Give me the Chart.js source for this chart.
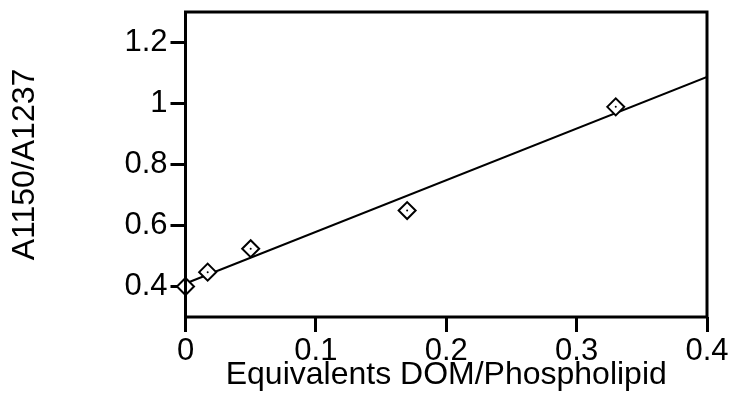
<!DOCTYPE html>
<html lang="en">
<head>
    <meta charset="UTF-8">
    <title>A1150/A1237 vs DOM</title>
    <style>
        body { margin: 0; background: #fff; }
        canvas { display: block; }
    </style>
</head>
<body>
    <canvas id="ratioChart" width="732" height="398"></canvas>
    <script src="https://cdn.jsdelivr.net/npm/chart.js"></script>
    <script>
        // Measured absorbance ratios
        const equivalents = [0, 0.017, 0.05, 0.17, 0.33];
        const ratios = [0.40, 0.447, 0.524, 0.649, 0.989];
        // Linear fit, end points
        const fitX = [0, 0.4];
        const fitY = [0.41, 1.087];
        // Axis ticks
        const xTicks = [0, 0.1, 0.2, 0.3, 0.4];
        const yTicks = [0.4, 0.6, 0.8, 1, 1.2];

        const tickFont = { family: "'Liberation Sans', Arial, sans-serif", size: 31, lineHeight: 1.2 };
        const titleFont = { family: "'Liberation Sans', Arial, sans-serif", size: 32, lineHeight: 1.2 };

        const toPoints = (xs, ys) => xs.map((x, i) => ({ x: x, y: ys[i] }));

        // frame drawn over the markers so the axis shows through
        const frame = {
            id: 'frame',
            afterDatasetsDraw(chart) {
                const { ctx, chartArea: a } = chart;
                ctx.save();
                ctx.strokeStyle = '#000';
                ctx.lineWidth = 3;
                ctx.strokeRect(a.left, a.top, a.right - a.left, a.bottom - a.top);
                ctx.restore();
            }
        };

        new Chart(document.getElementById('ratioChart'), {
            type: 'scatter',
            data: {
                datasets: [
                    {
                        label: 'centre',
                        data: toPoints(equivalents, ratios),
                        pointStyle: 'circle',
                        pointRadius: 1,
                        pointBorderWidth: 0,
                        pointBackgroundColor: '#000',
                        clip: false,
                        order: 0
                    },
                    {
                        label: 'A1150/A1237',
                        data: toPoints(equivalents, ratios),
                        pointStyle: 'rectRot',
                        pointRadius: 8.5,
                        pointBorderWidth: 2,
                        pointBorderColor: '#000',
                        pointBackgroundColor: '#fff',
                        clip: false,
                        order: 1
                    },
                    {
                        label: 'fit',
                        data: toPoints(fitX, fitY),
                        showLine: true,
                        borderColor: '#000',
                        borderWidth: 2,
                        pointRadius: 0,
                        order: 2
                    }
                ]
            },
            options: {
                responsive: false,
                animation: false,
                layout: { padding: { top: 12, right: 25, left: 0, bottom: 0 } },
                plugins: { legend: { display: false }, tooltip: { enabled: false } },
                scales: {
                    x: {
                        type: 'linear',
                        min: 0,
                        max: 0.4,
                        afterBuildTicks: s => { s.ticks = xTicks.map(v => ({ value: v })); },
                        afterFit: s => { s.height = 81; s.paddingLeft = 0; s.paddingRight = 0; },
                        border: { display: false },
                        grid: { drawOnChartArea: false, tickLength: 15, lineWidth: 3, color: '#000' },
                        ticks: { color: '#000', font: tickFont, padding: 1, maxRotation: 0, callback: v => String(v) },
                        title: {
                            display: true,
                            text: 'Equivalents DOM/Phospholipid',
                            color: '#000',
                            font: titleFont,
                            padding: { top: 0, bottom: 4 }
                        }
                    },
                    y: {
                        type: 'linear',
                        min: 0.3,
                        max: 1.3,
                        afterBuildTicks: s => { s.ticks = yTicks.map(v => ({ value: v })); },
                        afterFit: s => { s.width = 185.5; s.paddingTop = 0; s.paddingBottom = 0; },
                        border: { display: false },
                        grid: { drawOnChartArea: false, tickLength: 15, lineWidth: 3, color: '#000' },
                        ticks: { color: '#000', font: tickFont, padding: 3, callback: v => String(v) },
                        title: {
                            display: true,
                            text: 'A1150/A1237',
                            color: '#000',
                            font: titleFont,
                            padding: { top: 6, bottom: 0 }
                        }
                    }
                }
            },
            plugins: [frame]
        });
    </script>
</body>
</html>
